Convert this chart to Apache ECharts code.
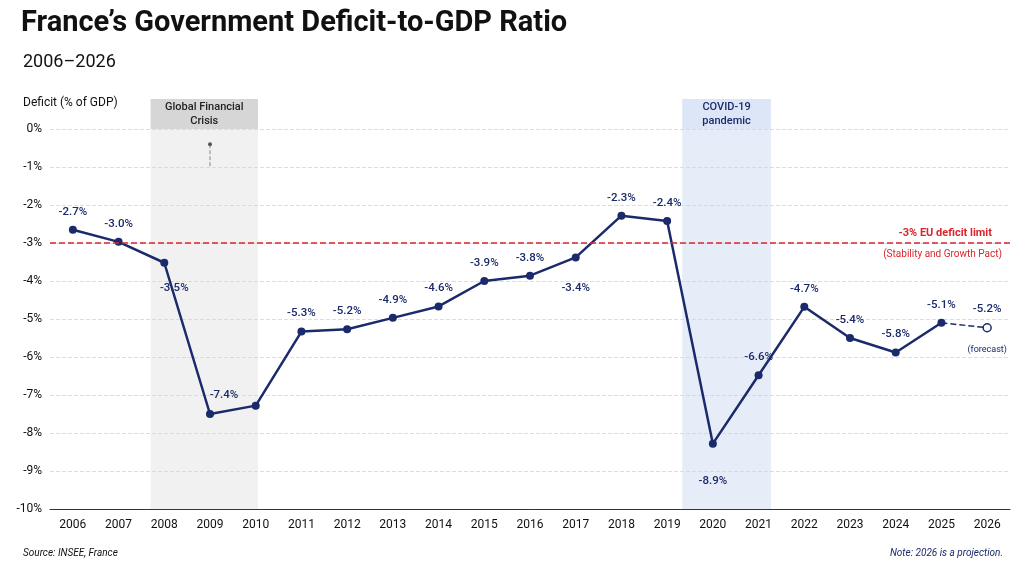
<!DOCTYPE html>
<html><head><meta charset="utf-8">
<script src="https://cdn.jsdelivr.net/npm/echarts@6/dist/echarts.min.js"></script>
<style>body{margin:0;background:#fff}#main{width:1024px;height:562px}</style>
</head><body><div id="main"></div>
<script>
var years = ['2006','2007','2008','2009','2010','2011','2012','2013','2014','2015','2016','2017','2018','2019','2020','2021','2022','2023','2024','2025','2026'];
var deficit = [-2.65,-2.97,-3.52,-7.5,-7.28,-5.33,-5.27,-4.97,-4.67,-4.0,-3.86,-3.38,-2.28,-2.42,-8.28,-6.48,-4.68,-5.5,-5.88,-5.1,-5.23];
var labels = ['-2.7%','-3.0%','-3.5%','-7.4%','','-5.3%','-5.2%','-4.9%','-4.6%','-3.9%','-3.8%','-3.4%','-2.3%','-2.4%','-8.9%','-6.6%','-4.7%','-5.4%','-5.8%','-5.1%','-5.2%'];
var below = {2:[10,10],11:[0,16],14:[0,22]};
var navy = '#1b2a6b';
var font = 'Roboto';

var actual = deficit.map(function(v,i){
  var lp = below[i] ? {position:'bottom',offset:below[i]} : {position:'top',distance:8};
  if (i==3) lp = {position:'top',offset:[14,-4]};
  return {value: i<20 ? v : null, label: Object.assign({show: labels[i]!=='', formatter: labels[i]}, lp)};
});
var forecast = deficit.map(function(v,i){
  if (i==19) return {value:v, symbol:'none'};
  return i==20 ? v : null;
});

var myChart = echarts.init(document.getElementById('main'));
myChart.setOption({
  textStyle:{fontFamily:font},
  title:[
    {text:'France\u2019s Government Deficit-to-GDP Ratio',left:16,top:4,textStyle:{fontSize:29,fontWeight:'bold',color:'#111',fontFamily:'Roboto'}},
    {text:'2006\u20132026',left:18,top:48,textStyle:{fontSize:18,fontWeight:'normal',color:'#111'}},
    {text:'Deficit (% of GDP)',left:18,top:92,textStyle:{fontSize:12,fontWeight:'normal',color:'#111'}},
    {text:'Source: INSEE, France',left:18,top:543,textStyle:{fontSize:10,fontWeight:'normal',fontStyle:'italic',color:'#111'}},
    {text:'Note: 2026 is a projection.',right:16,top:543,textStyle:{fontSize:10,fontWeight:'normal',fontStyle:'italic',color:navy}}
  ],
  grid:{left:50,right:14,top:129,bottom:53},
  xAxis:[
    {type:'category',data:years,axisTick:{show:false},axisLine:{onZero:false,lineStyle:{color:'#333'}},
     axisLabel:{color:'#111',fontSize:12,margin:10}},
    {type:'value',min:-0.5,max:20.5,show:false}
  ],
  yAxis:{type:'value',min:-10,max:0,interval:1,axisLine:{show:false},axisTick:{show:false},
    axisLabel:{formatter:'{value}%',color:'#111',fontSize:12},
    splitLine:{lineStyle:{color:'#ddd',type:'dashed'}}},
  series:[
    {type:'line',xAxisIndex:1,data:[],silent:true,
     markArea:{silent:true,data:[
       [{xAxis:1.7,itemStyle:{color:'rgba(215,215,215,0.35)'}},{xAxis:4.05}],
       [{xAxis:13.33,itemStyle:{color:'rgba(200,215,240,0.45)'}},{xAxis:15.27}]
     ]}},
    {type:'line',xAxisIndex:1,data:[{value:[3,-0.4],symbol:'circle'},{value:[3,-1],symbol:'none'}],symbolSize:4,showSymbol:true,
     lineStyle:{color:'#888',type:'dashed',width:1},itemStyle:{color:'#555'},silent:true},
    {type:'line',data:forecast,symbol:'circle',symbolSize:8,z:1,lineStyle:{color:navy,type:'dashed',width:1.5},
     itemStyle:{color:'#fff',borderColor:navy,borderWidth:1.5},
     label:{show:true,position:'top',distance:8,color:navy,fontSize:11.5,fontWeight:500,
       formatter:function(p){return p.dataIndex==20?'-5.2%':'';}}},
    {type:'line',data:actual,symbol:'circle',symbolSize:8,z:3,itemStyle:{color:navy},lineStyle:{color:navy,width:2.5},
     label:{color:navy,fontSize:11.5,fontWeight:500},
     markLine:{silent:true,symbol:'none',data:[{yAxis:-3}],lineStyle:{color:'#d9262c',type:'dashed',width:1.5},
       label:{show:false}}}
  ]
});

var g1 = myChart.convertToPixel({xAxisIndex:1,yAxisIndex:0},[1.7,0]);
var g2 = myChart.convertToPixel({xAxisIndex:1,yAxisIndex:0},[4.05,0]);
var c1 = myChart.convertToPixel({xAxisIndex:1,yAxisIndex:0},[13.33,0]);
var c2 = myChart.convertToPixel({xAxisIndex:1,yAxisIndex:0},[15.27,0]);
var lim = myChart.convertToPixel({xAxisIndex:1,yAxisIndex:0},[20.5,-3]);
var fc = myChart.convertToPixel({xAxisIndex:1,yAxisIndex:0},[20,-5.23]);
myChart.setOption({graphic:[
  {type:'rect',shape:{x:g1[0],y:g1[1]-30,width:g2[0]-g1[0],height:30},style:{fill:'#d6d6d6'}},
  {type:'text',x:(g1[0]+g2[0])/2,y:g1[1]-15,style:{text:'Global Financial\nCrisis',align:'center',verticalAlign:'middle',fontSize:11,fontWeight:500,fill:'#222',fontFamily:font,lineHeight:14}},
  {type:'rect',shape:{x:c1[0],y:c1[1]-30,width:c2[0]-c1[0],height:30},style:{fill:'#dce6f7'}},
  {type:'text',x:(c1[0]+c2[0])/2,y:c1[1]-15,style:{text:'COVID-19\npandemic',align:'center',verticalAlign:'middle',fontSize:11,fontWeight:500,fill:navy,fontFamily:font,lineHeight:14}},
  {type:'text',x:lim[0]-18,y:lim[1]-10,style:{text:'-3% EU deficit limit',align:'right',verticalAlign:'middle',fontSize:11,fontWeight:'bold',fill:'#d9262c',fontFamily:font}},
  {type:'text',x:lim[0]-8,y:lim[1]+11,style:{text:'(Stability and Growth Pact)',align:'right',verticalAlign:'middle',fontSize:10,fill:'#d9262c',fontFamily:font}},
  {type:'text',x:fc[0],y:fc[1]+22,style:{text:'(forecast)',align:'center',verticalAlign:'middle',fontSize:9,fill:navy,fontFamily:font}}
]});
</script></body></html>
